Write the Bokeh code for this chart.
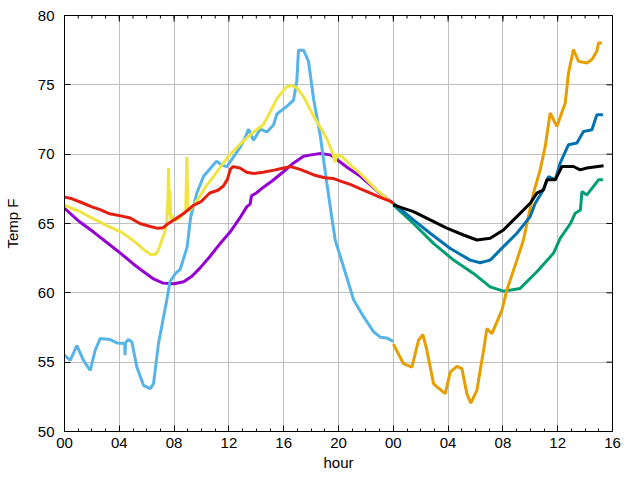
import math
from bokeh.plotting import figure
from bokeh.models import Range1d, FixedTicker
from bokeh.embed import file_html
from bokeh.resources import INLINE

# ---- data (hours since midnight of day 1, temperature in F) ----
purple_h = [0.0, 1.0, 2.1, 3.0, 4.1, 5.0, 5.8, 6.5, 7.2, 8.0, 8.7, 9.3, 9.9, 10.6, 11.4, 12.1,
            12.8, 13.3, 13.55, 13.65, 14.0, 14.5, 15.2, 16.0, 16.7, 17.45, 18.0, 18.7, 19.4,
            19.9, 20.7, 21.6, 22.3, 23.0, 24.0]
purple_t = [66.1, 65.2, 64.4, 63.7, 62.85, 62.1, 61.5, 61.0, 60.7, 60.65, 60.8, 61.2, 61.8, 62.6,
            63.6, 64.4, 65.4, 66.2, 66.4, 67.0, 67.2, 67.6, 68.1, 68.75, 69.35, 69.85, 69.95, 70.05,
            69.95, 69.6, 69.0, 68.4, 67.8, 67.2, 66.45]

red_h = [0.0, 0.5, 1.15, 2.0, 2.6, 3.3, 4.1, 4.8, 5.5, 6.2, 6.8, 7.2, 7.5, 8.2, 8.8, 9.4, 10.0,
         10.6, 11.2, 11.6, 11.9, 12.1, 12.3, 12.8, 13.3, 13.8, 14.5, 15.3, 16.0, 16.5, 17.2,
         18.2, 19.0, 19.6, 20.3, 20.9, 21.6, 22.3, 23.0, 23.8, 24.0]
red_t = [66.9, 66.8, 66.55, 66.2, 66.0, 65.7, 65.55, 65.4, 65.0, 64.8, 64.65, 64.7, 64.95, 65.4,
         65.8, 66.3, 66.6, 67.2, 67.4, 67.7, 68.2, 68.9, 69.1, 69.0, 68.7, 68.6, 68.7, 68.85, 69.0,
         69.1, 68.9, 68.5, 68.3, 68.25, 68.0, 67.8, 67.5, 67.2, 66.9, 66.6, 66.45]

yellow_h = [0.0, 0.5, 1.15, 2.0, 2.6, 3.3, 4.1, 4.7, 5.3, 5.8, 6.3, 6.7, 6.9, 7.1, 7.3, 7.45,
            7.55, 7.6, 7.65, 7.7, 7.75, 7.85, 8.0, 8.4, 8.85, 8.93, 9.0, 9.1, 9.5, 9.9, 10.4, 10.9,
            11.4, 12.0, 12.8, 13.8, 14.5, 15.0, 15.5, 16.2, 16.6, 16.96, 17.45, 18.2, 18.7, 19.2,
            19.6, 19.76, 19.85, 20.25, 20.9, 21.6, 22.2, 22.8, 23.4, 24.0]
yellow_t = [66.35, 66.1, 65.85, 65.4, 65.1, 64.75, 64.4, 64.0, 63.55, 63.1, 62.75, 62.8, 63.2,
            63.8, 64.3, 65.0, 66.8, 69.0, 65.6, 67.4, 65.3, 65.6, 65.2, 65.4, 65.9, 69.8, 66.2,
            65.9, 66.4, 67.0, 67.8, 68.4, 69.1, 69.9, 70.7, 71.6, 72.1, 73.0, 74.0, 74.85, 74.95,
            74.8, 74.15, 72.7, 71.9, 71.0, 70.0, 69.4, 69.95, 69.85, 69.2, 68.6, 68.0, 67.4, 66.9,
            66.4]

lblue_h = [0.0, 0.42, 0.9, 1.39, 1.88, 2.24, 2.6, 3.34, 3.82, 4.4, 4.42, 4.45, 4.67, 4.92, 5.28,
           5.77, 6.26, 6.5, 6.86, 7.47, 7.7, 8.1, 8.45, 8.7, 8.95, 9.2, 9.66, 10.15, 10.5, 11.1,
           11.5, 11.85, 12.34, 12.82, 13.2, 13.43, 13.8, 14.28, 14.77, 15.26, 15.5, 16.23, 16.72,
           16.96, 17.08, 17.45, 17.81, 18.18, 18.66, 19.15, 19.5, 19.76, 20.36, 21.1, 21.82,
           22.55, 23.05, 23.5, 24.0]
lblue_t = [55.5, 55.13, 56.2, 55.13, 54.4, 55.86, 56.7, 56.63, 56.39, 56.34, 55.5, 56.4, 56.63,
           56.46, 54.65, 53.33, 53.09, 53.45, 56.34, 59.5, 60.8, 61.4, 61.7, 62.5, 63.3, 65.4,
           67.2, 68.4, 68.8, 69.5, 69.2, 69.1, 69.8, 70.5, 71.2, 71.8, 71.0, 71.8, 71.6, 72.1,
           72.9, 73.45, 73.9, 75.3, 77.5, 77.5, 76.7, 74.0, 71.4, 67.9, 65.5, 63.8, 61.9, 59.5,
           58.3, 57.2, 56.8, 56.75, 56.5]

orange_h = [24.0, 24.74, 25.36, 25.84, 26.16, 26.45, 26.94, 27.79, 28.16, 28.64, 29.01, 29.37,
            29.66, 30.1, 30.59, 30.83, 31.2, 31.93, 32.29, 33.02, 33.5, 34.23, 34.72, 35.09,
            35.45, 35.94, 36.55, 36.79, 37.15, 37.52, 38.13, 38.5, 38.86, 38.98, 39.23]
orange_t = [56.3, 54.9, 54.65, 56.58, 56.99, 55.86, 53.44, 52.73, 54.29, 54.7, 54.53, 52.73,
            52.05, 52.96, 55.86, 57.43, 57.06, 58.75, 60.2, 62.36, 63.81, 67.19, 68.87, 70.56,
            72.97, 72.0, 73.69, 75.87, 77.55, 76.7, 76.58, 76.83, 77.43, 78.02, 78.02]

blue_h = [24.0, 25.47, 26.69, 28.16, 29.61, 30.34, 31.07, 32.04, 33.02, 33.99, 34.36, 34.96,
          35.33, 35.82, 36.18, 36.79, 37.4, 37.88, 38.5, 38.86, 39.3]
blue_t = [66.46, 65.26, 64.3, 63.2, 62.36, 62.17, 62.36, 63.33, 64.3, 65.5, 66.46, 67.43, 68.39,
          68.15, 69.36, 70.68, 70.8, 71.64, 71.76, 72.85, 72.85]

green_h = [24.0, 25.47, 26.93, 28.4, 29.85, 31.07, 32.04, 33.26, 34.48, 35.69, 36.18, 36.93,
           37.28, 37.66, 37.77, 38.13, 38.98, 39.3]
green_t = [66.34, 65.0, 63.57, 62.36, 61.4, 60.43, 60.12, 60.32, 61.52, 62.85, 63.93, 65.0,
           65.74, 65.98, 67.3, 67.06, 68.15, 68.15]

black_h = [24.0, 25.47, 26.69, 27.91, 29.12, 30.1, 31.07, 32.04, 33.02, 33.99, 34.48, 34.96,
           35.21, 35.82, 36.31, 37.15, 37.64, 38.13, 39.35]
black_t = [66.34, 65.86, 65.26, 64.66, 64.17, 63.81, 63.93, 64.53, 65.5, 66.46, 67.19, 67.43,
           68.15, 68.15, 69.11, 69.11, 68.87, 69.0, 69.16]

x_ticks = [0, 4, 8, 12, 16, 20, 24, 28, 32, 36, 40]
x_labels = ["00", "04", "08", "12", "16", "20", "00", "04", "08", "12", "16"]
x_minor = list(range(0, 41))
y_ticks = [50, 55, 60, 65, 70, 75, 80]

series = [
    (purple_h, purple_t, "#9400d3"),
    (green_h, green_t, "#009e73"),
    (lblue_h, lblue_t, "#56b4e9"),
    (orange_h, orange_t, "#e69f00"),
    (yellow_h, yellow_t, "#f0e442"),
    (blue_h, blue_t, "#0072b2"),
    (red_h, red_t, "#e51e10"),
    (black_h, black_t, "#000000"),
]

FONT = "Liberation Sans"
FS = "15px"
X0, X1, Y0, Y1 = 0, 40, 50, 80

p = figure(width=624, height=474, output_backend="svg", toolbar_location=None,
           x_range=Range1d(X0, X1), y_range=Range1d(Y0, Y1),
           min_border_left=64, min_border_right=12, min_border_top=15, min_border_bottom=43)
p.background_fill_color = "white"
p.border_fill_color = "white"
p.outline_line_color = "black"
p.outline_line_width = 1

xt = FixedTicker(ticks=x_ticks, minor_ticks=x_minor)
yt = FixedTicker(ticks=y_ticks, minor_ticks=[])

p.xaxis.ticker = xt
p.yaxis.ticker = yt
p.xaxis.major_label_overrides = {t: l for t, l in zip(x_ticks, x_labels)}

for ax in (p.xaxis[0], p.yaxis[0]):
    ax.axis_line_color = "black"
    ax.major_tick_in = 6
    ax.major_tick_out = 0
    ax.minor_tick_in = 3
    ax.minor_tick_out = 0
    ax.major_tick_line_color = "black"
    ax.minor_tick_line_color = "black"
    ax.major_label_text_font = FONT
    ax.major_label_text_font_size = FS
    ax.major_label_text_color = "black"
    ax.axis_label_text_font = FONT
    ax.axis_label_text_font_size = FS
    ax.axis_label_text_font_style = "normal"
    ax.axis_label_text_color = "black"

p.yaxis.minor_tick_line_color = None
p.xaxis.axis_label = "hour"
p.yaxis.axis_label = "Temp F"
p.xaxis.major_label_standoff = 6
p.xaxis.axis_label_standoff = 3
p.yaxis.major_label_standoff = 10
p.yaxis.axis_label_standoff = 14

p.xgrid.ticker = xt
p.ygrid.ticker = yt
p.xgrid.grid_line_color = "#c0c0c0"
p.ygrid.grid_line_color = "#c0c0c0"

for hs, ts, c in series:
    p.line(hs, ts, line_color=c, line_width=3)

# mirrored tick marks on the top and right borders (half of each dash is clipped by the frame)
p.scatter(x_ticks, [Y1] * len(x_ticks), marker="dash", size=12, angle=math.pi / 2,
          line_color="black", line_width=1)
p.scatter(x_minor, [Y1] * len(x_minor), marker="dash", size=6, angle=math.pi / 2,
          line_color="black", line_width=1)
p.scatter([X1] * len(y_ticks), y_ticks, marker="dash", size=12,
          line_color="black", line_width=1)

open("out.html", "w").write(file_html(p, INLINE))
